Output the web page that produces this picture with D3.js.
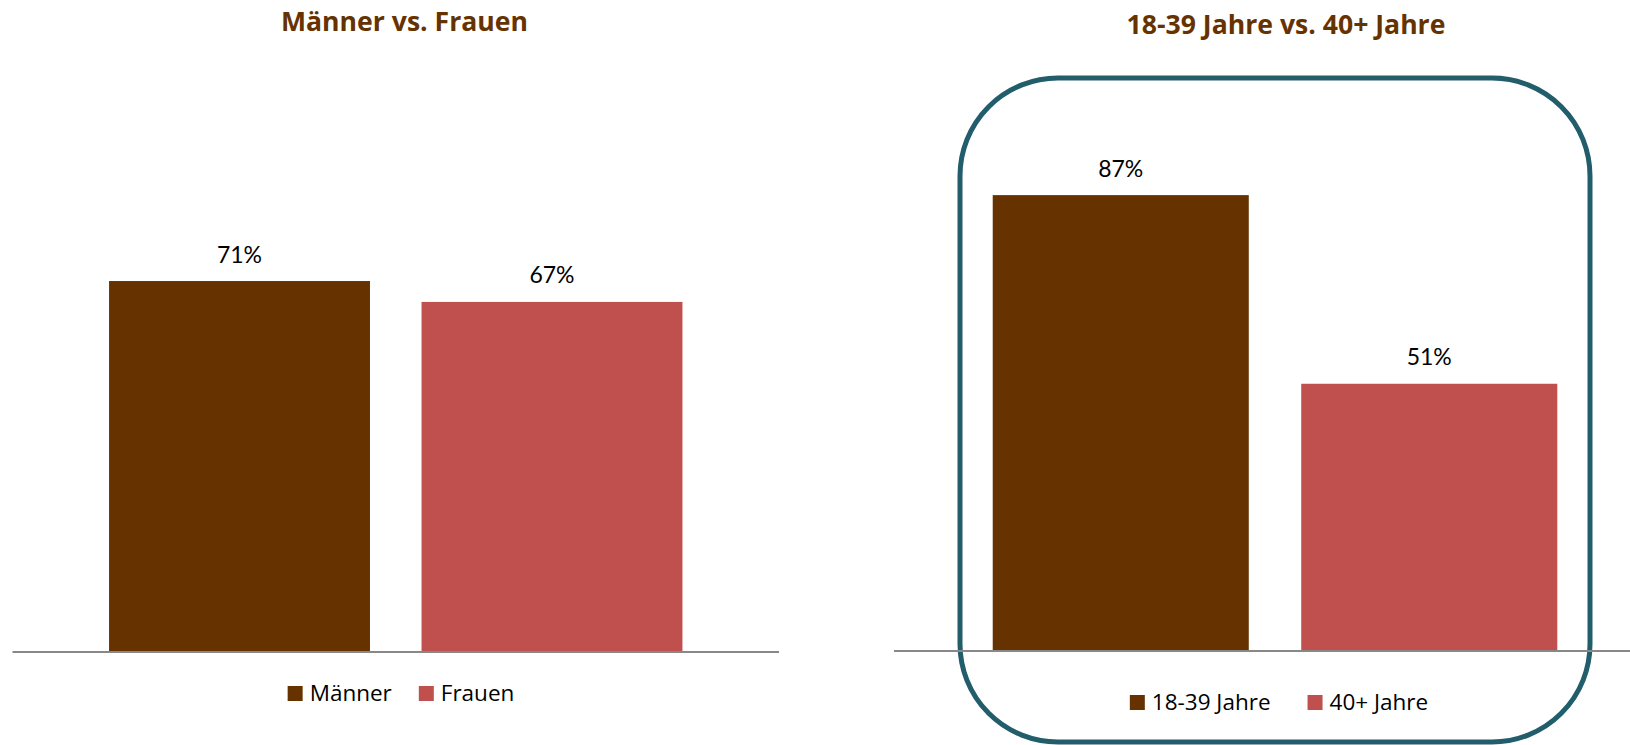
<!DOCTYPE html>
<html>
<head>
<meta charset="utf-8">
<script src="https://cdn.jsdelivr.net/npm/d3@7"></script>
<style>
  html, body { margin: 0; padding: 0; background: #ffffff; }
  svg { display: block; }
  text { font-family: Lato, "Open Sans", sans-serif; }
  .title, .legend-text { font-family: "Open Sans", Lato, sans-serif; }
</style>
</head>
<body>
<svg id="chart" width="1630" height="745"></svg>
<script>
// ---- data ----
const titles = ["Männer vs. Frauen", "18-39 Jahre vs. 40+ Jahre"];
const genderCategories = ["Männer", "Frauen"];
const genderValues = [71, 67];
const ageCategories = ["18-39 Jahre", "40+ Jahre"];
const ageValues = [87, 51];
const seriesColors = ["#663300", "#C0504D"];

const svg = d3.select("#chart");

// rounded frame around the second chart
svg.append("rect")
  .attr("x", 960).attr("y", 78)
  .attr("width", 630).attr("height", 664)
  .attr("rx", 98).attr("ry", 98)
  .attr("fill", "none")
  .attr("stroke", "#225D6C")
  .attr("stroke-width", 5);

function drawPanel(cfg) {
  const g = svg.append("g");
  const x = d3.scaleBand()
    .domain(cfg.categories)
    .range(cfg.xRange)
    .paddingInner(cfg.padInner)
    .paddingOuter(cfg.padOuter);
  const y = d3.scaleLinear().domain([0, 100]).range(cfg.yRange);

  // title
  g.append("text")
    .attr("class", "title")
    .attr("x", cfg.titleX).attr("y", cfg.titleY)
    .attr("text-anchor", "middle")
    .attr("font-size", 26.6).attr("font-weight", 700)
    .attr("fill", "#663300")
    .text(cfg.title);

  // bars
  g.selectAll("rect.bar")
    .data(cfg.values)
    .join("rect")
    .attr("class", "bar")
    .attr("x", (d, i) => x(cfg.categories[i]))
    .attr("y", d => y(d))
    .attr("width", x.bandwidth())
    .attr("height", d => y(0) - y(d))
    .attr("fill", (d, i) => seriesColors[i]);

  // value labels
  g.selectAll("text.val")
    .data(cfg.values)
    .join("text")
    .attr("class", "val")
    .attr("x", (d, i) => x(cfg.categories[i]) + x.bandwidth() / 2)
    .attr("y", d => y(d) - 18.5)
    .attr("text-anchor", "middle")
    .attr("font-size", 23)
    .attr("fill", "#000")
    .text(d => d + "%");

  // axis (category axis without ticks/labels)
  const axis = d3.axisBottom(x).tickSize(0).tickFormat("");
  const ax = g.append("g")
    .attr("transform", `translate(0,${y(0)})`)
    .call(axis);
  ax.select(".domain")
    .attr("d", `M${cfg.axisStart},0H${cfg.axisEnd}`)
    .attr("stroke", "#888888")
    .attr("stroke-width", 2);

  // legend
  const lg = g.append("g");
  const items = lg.selectAll("g.item")
    .data(cfg.categories)
    .join("g").attr("class", "item");
  items.append("rect")
    .attr("width", 15).attr("height", 15)
    .attr("y", -15)
    .attr("fill", (d, i) => seriesColors[i]);
  items.append("text")
    .attr("class", "legend-text")
    .attr("x", 22).attr("y", 0)
    .attr("font-size", 22.5)
    .attr("fill", "#000")
    .text(d => d);
  const widths = [];
  items.each(function () {
    const w = 22 + this.querySelector("text").getComputedTextLength();
    widths.push(w);
  });
  const total = d3.sum(widths) + cfg.legendGap * (widths.length - 1);
  let start = cfg.legendCenter - total / 2;
  items.attr("transform", (d, i) => {
    const pos = start;
    start += widths[i] + cfg.legendGap;
    return `translate(${pos},${cfg.legendY})`;
  });
}

drawPanel({
  title: titles[0], titleX: 404.5, titleY: 31,
  categories: genderCategories, values: genderValues,
  xRange: [12.5, 779], padInner: 0.165, padOuter: 0.309,
  yRange: [652, 129.5],
  axisStart: 12.5, axisEnd: 779,
  legendCenter: 401, legendY: 701, legendGap: 27
});

drawPanel({
  title: titles[1], titleX: 1286, titleY: 33.5,
  categories: ageCategories, values: ageValues,
  xRange: [894, 1656], padInner: 0.17, padOuter: 0.32,
  yRange: [651, 127],
  axisStart: 894, axisEnd: 1630,
  legendCenter: 1279, legendY: 710, legendGap: 37
});
</script>
</body>
</html>
